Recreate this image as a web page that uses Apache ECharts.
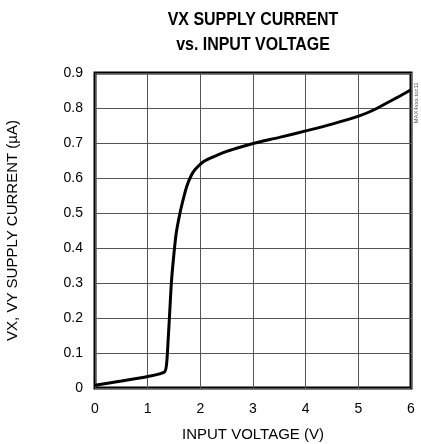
<!DOCTYPE html>
<html><head><meta charset="utf-8">
<script src="https://cdn.jsdelivr.net/npm/echarts@6/dist/echarts.min.js"></script>
<style>html,body{margin:0;padding:0;background:#fff}#c{width:421px;height:444px}</style>
</head><body><div id="c"></div>
<script>
const titleLines = ['VX SUPPLY CURRENT', 'vs. INPUT VOLTAGE'];
const xName = 'INPUT VOLTAGE (V)';
const yName = 'VX, VY SUPPLY CURRENT (µA)';
const sideTag = 'MAX4xxx toc11';
const voltage = [0, 0.5, 1.0, 1.32, 1.36, 1.39, 1.42, 1.45, 1.49, 1.54, 1.60, 1.66, 1.74, 1.82, 1.90, 2.07, 2.3, 2.5, 2.8, 3.04, 3.5, 4.04, 4.5, 5.03, 5.3, 5.55, 5.8, 6.0];
const current = [0.008, 0.02, 0.033, 0.046, 0.07, 0.14, 0.22, 0.30, 0.37, 0.44, 0.49, 0.53, 0.575, 0.605, 0.624, 0.648, 0.664, 0.676, 0.69, 0.70, 0.716, 0.736, 0.754, 0.778, 0.795, 0.815, 0.835, 0.852];

const chart = echarts.init(document.getElementById('c'));
const font = 'Liberation Sans, Arial, sans-serif';
chart.setOption({
  animation: false,
  graphic: [{
    type: 'text', x: 253, y: 20, scaleX: 0.84, silent: true,
    style: {text: titleLines[0], fill: '#000', font: 'bold 19px Liberation Sans, Arial', align: 'center', verticalAlign: 'middle'}
  }, {
    type: 'text', x: 253, y: 45, scaleX: 0.84, silent: true,
    style: {text: titleLines[1], fill: '#000', font: 'bold 19px Liberation Sans, Arial', align: 'center', verticalAlign: 'middle'}
  }, {
    type: 'text', x: 416, y: 103, rotation: Math.PI / 2, silent: true,
    style: {text: sideTag, fill: '#555', font: '6px Liberation Sans, Arial', align: 'center', verticalAlign: 'middle'}
  }],
  grid: {left: 95, right: 10, top: 73, bottom: 56, outerBoundsMode: 'none', containLabel: false,
    show: true, borderColor: '#000', borderWidth: 3, backgroundColor: 'transparent'},
  xAxis: {
    type: 'value', min: 0, max: 6, interval: 1,
    name: xName, nameLocation: 'middle', nameGap: 39,
    nameTextStyle: {fontFamily: font, fontSize: 15, color: '#000'},
    axisLine: {show: false}, axisTick: {show: false},
    axisLabel: {fontFamily: font, fontSize: 14, color: '#000', margin: 14},
    splitLine: {show: true, lineStyle: {color: '#555', width: 1}}
  },
  yAxis: {
    type: 'value', min: 0, max: 0.9, interval: 0.1,
    name: yName, nameLocation: 'middle', nameGap: 75, nameRotate: 90,
    nameTextStyle: {fontFamily: font, fontSize: 15, color: '#000'},
    axisLine: {show: false}, axisTick: {show: false},
    axisLabel: {fontFamily: font, fontSize: 14, color: '#000', margin: 12,
      formatter: v => v === 0 ? '0' : v.toFixed(1)},
    splitLine: {show: true, lineStyle: {color: '#555', width: 1}}
  },
  series: [{
    type: 'line', data: voltage.map((v, i) => [v, current[i]]),
    smooth: 0.25, showSymbol: false, clip: false,
    lineStyle: {color: '#000', width: 3}
  }]
});
</script></body></html>
